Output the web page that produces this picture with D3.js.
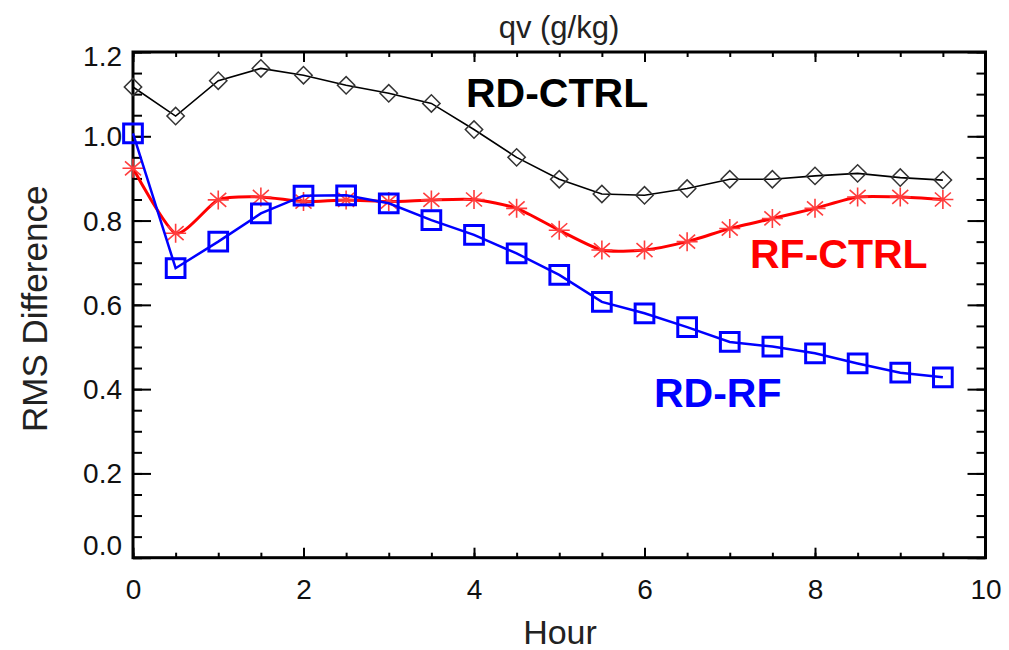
<!DOCTYPE html>
<html>
<head>
<meta charset="utf-8">
<script src="https://cdn.jsdelivr.net/npm/d3@7"></script>
<style>
  html, body { margin: 0; padding: 0; background: #fff; }
  svg { display: block; }
  text { font-family: "Liberation Sans", Arial, Helvetica, sans-serif; }
</style>
</head>
<body>
<svg id="chart" width="1009" height="650"></svg>
<script>
// Forecast hours (every half hour)
const hours = [0, 0.5, 1, 1.5, 2, 2.5, 3, 3.5, 4, 4.5, 5, 5.5, 6, 6.5, 7, 7.5, 8, 8.5, 9, 9.5];

// RMS differences of qv (g/kg)
const rdCtrl = [1.117, 1.048, 1.132, 1.161, 1.145, 1.121, 1.102, 1.078, 1.016, 0.950,
                0.898, 0.863, 0.860, 0.876, 0.898, 0.898, 0.906, 0.912, 0.902, 0.896];
const rfCtrl = [0.924, 0.770, 0.849, 0.856, 0.845, 0.849, 0.845, 0.849, 0.850, 0.829,
                0.777, 0.730, 0.730, 0.750, 0.781, 0.805, 0.829, 0.856, 0.856, 0.850];
const rdRf   = [1.007, 0.687, 0.750, 0.817, 0.859, 0.860, 0.841, 0.801, 0.766, 0.722,
                0.671, 0.607, 0.580, 0.547, 0.512, 0.501, 0.485, 0.461, 0.439, 0.428];

// Axis ticks
const xMajor = [0, 2, 4, 6, 8, 10];
const xMinor = d3.range(0, 10.01, 0.5);
const yMajor = [0, 0.2, 0.4, 0.6, 0.8, 1.0, 1.2];
const yMinor = d3.range(0, 1.2001, 0.05);

const svg = d3.select("#chart");
const plotL = 133, plotR = 985.5, plotT = 52, plotB = 557.7;

const x = d3.scaleLinear().domain([0, 10]).range([plotL, plotR]);
const y = d3.scaleLinear().domain([0, 1.2]).range([plotB, plotT]);

// ---- axes (ticks point inward on all four sides) ----
const fmt1 = d3.format(".1f");

const gBottom = svg.append("g").attr("transform", `translate(0,${plotB})`);
gBottom.call(d3.axisBottom(x).tickValues(xMinor).tickSize(-5).tickFormat(""));
gBottom.append("g").call(d3.axisBottom(x).tickValues(xMajor).tickSize(-10).tickPadding(21).tickFormat(d3.format("d")));

const gTop = svg.append("g").attr("transform", `translate(0,${plotT})`);
gTop.call(d3.axisTop(x).tickValues(xMinor).tickSize(-5).tickFormat(""));
gTop.append("g").call(d3.axisTop(x).tickValues(xMajor).tickSize(-10).tickFormat(""));

const gLeft = svg.append("g").attr("transform", `translate(${plotL},0)`);
gLeft.call(d3.axisLeft(y).tickValues(yMinor).tickSize(-9).tickFormat(""));
gLeft.append("g").attr("class", "ymaj").call(d3.axisLeft(y).tickValues(yMajor).tickSize(-18).tickPadding(11).tickFormat(fmt1));

const gRight = svg.append("g").attr("transform", `translate(${plotR},0)`);
gRight.call(d3.axisRight(y).tickValues(yMinor).tickSize(-9).tickFormat(""));
gRight.append("g").call(d3.axisRight(y).tickValues(yMajor).tickSize(-18).tickFormat(""));

svg.selectAll(".domain").remove();
svg.selectAll(".tick line").attr("stroke", "#000").attr("stroke-width", 2);
svg.selectAll(".tick text")
  .attr("fill", "#111")
  .style("font-size", "28px")
  .style("font-family", "'Liberation Sans', Arial, sans-serif");

// keep the end labels of the y axis inside the frame
gLeft.select(".ymaj").selectAll(".tick text")
  .attr("dy", d => d === 0 ? "-0.1em" : (d === 1.2 ? "0.48em" : "0.34em"));

// frame
svg.append("rect")
  .attr("x", plotL).attr("y", plotT)
  .attr("width", plotR - plotL).attr("height", plotB - plotT)
  .attr("fill", "none").attr("stroke", "#000").attr("stroke-width", 3);

// ---- titles ----
svg.append("text")
  .attr("x", 559).attr("y", 38)
  .attr("text-anchor", "middle")
  .style("font-size", "31px").attr("fill", "#222")
  .text("qv (g/kg)");

svg.append("text")
  .attr("x", 560).attr("y", 644)
  .attr("text-anchor", "middle")
  .style("font-size", "34px").attr("fill", "#222")
  .text("Hour");

svg.append("text")
  .attr("transform", `translate(47,${(plotT + plotB) / 2 + 4}) rotate(-90)`)
  .attr("text-anchor", "middle")
  .style("font-size", "35px").attr("fill", "#222")
  .text("RMS Difference");

// ---- series ----
const pts = vals => hours.map((h, i) => [h, vals[i]]);

const straight = d3.line().x(d => x(d[0])).y(d => y(d[1]));
const smooth = d3.line().x(d => x(d[0])).y(d => y(d[1])).curve(d3.curveCardinal.tension(0.35));

// RD-CTRL: thin black line with open diamonds
svg.append("path").datum(pts(rdCtrl))
  .attr("d", straight).attr("fill", "none")
  .attr("stroke", "#000").attr("stroke-width", 1.6);
const diamond = d3.symbol().type(d3.symbolSquare).size(150);
svg.append("g").selectAll("path").data(pts(rdCtrl)).join("path")
  .attr("d", diamond)
  .attr("transform", d => `translate(${x(d[0])},${y(d[1])}) rotate(45)`)
  .attr("fill", "none").attr("stroke", "#333").attr("stroke-width", 1.5);

// RF-CTRL: smooth red line with asterisks
svg.append("path").datum(pts(rfCtrl))
  .attr("d", smooth).attr("fill", "none")
  .attr("stroke", "#ff0000").attr("stroke-width", 3);
const star = "M-10.5,0H10.5M0,-9.5V9.5M-8,-7L8,7M-8,7L8,-7";
svg.append("g").selectAll("path").data(pts(rfCtrl)).join("path")
  .attr("d", star)
  .attr("transform", d => `translate(${x(d[0])},${y(d[1])})`)
  .attr("fill", "none").attr("stroke", "#ff3d3d").attr("stroke-width", 1.6);

// RD-RF: blue line with open squares
svg.append("path").datum(pts(rdRf))
  .attr("d", straight).attr("fill", "none")
  .attr("stroke", "#0000ff").attr("stroke-width", 2.5);
const square = d3.symbol().type(d3.symbolSquare).size(350);
svg.append("g").selectAll("path").data(pts(rdRf)).join("path")
  .attr("d", square)
  .attr("transform", d => `translate(${x(d[0])},${y(d[1])})`)
  .attr("fill", "none").attr("stroke", "#0000ff").attr("stroke-width", 3);

// ---- series labels ----
const labels = [
  { text: "RD-CTRL", color: "#000", hx: 466, vy: 107 },
  { text: "RF-CTRL", color: "#ff0000", hx: 750, vy: 268 },
  { text: "RD-RF",   color: "#0000ff", hx: 654, vy: 407 }
];
svg.append("g").selectAll("text").data(labels).join("text")
  .attr("x", d => d.hx).attr("y", d => d.vy)
  .attr("fill", d => d.color)
  .style("font-size", "41px").style("font-weight", "bold")
  .text(d => d.text);
</script>
</body>
</html>
